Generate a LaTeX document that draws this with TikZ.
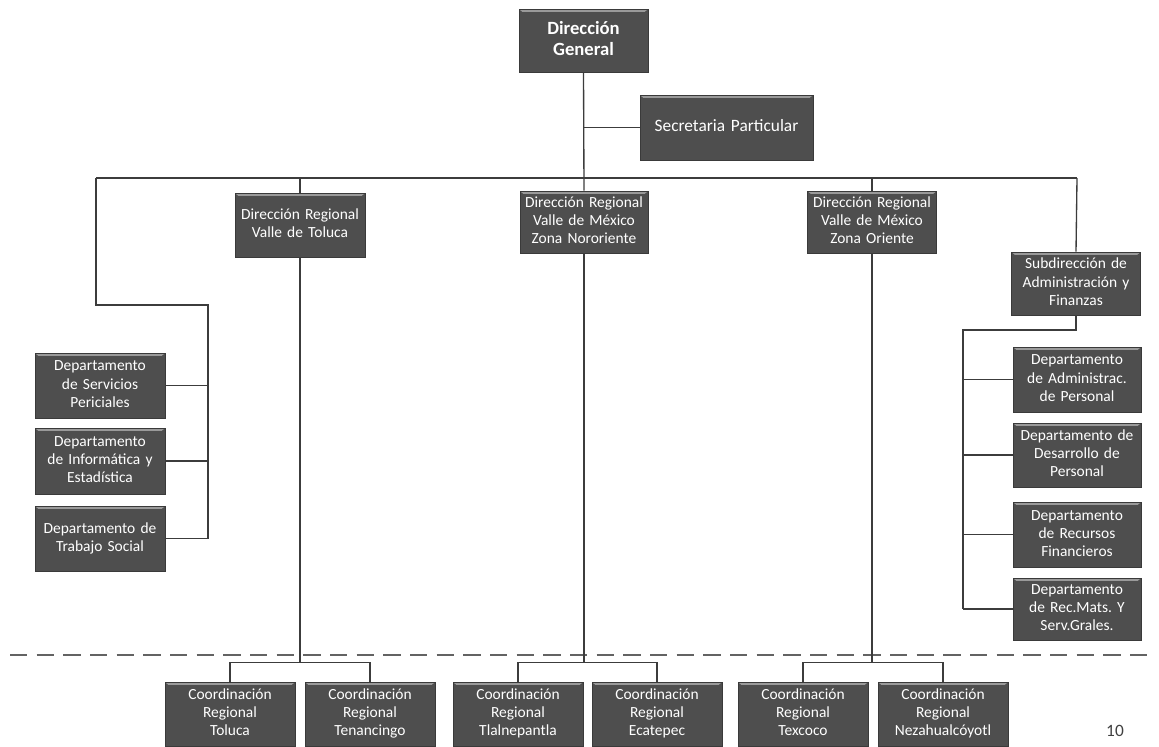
\documentclass[tikz,border=0pt]{standalone}
\usepackage{fontspec}
\setmainfont{Carlito}
\frenchspacing
\definecolor{boxgray}{HTML}{4E4E4E}
\definecolor{boxedge}{HTML}{3A3A3A}
\definecolor{boxlight}{HTML}{9A9A9A}
\definecolor{linecol}{HTML}{3C3C3C}
\begin{document}
\begin{tikzpicture}[x=0.75pt,y=-0.75pt,
  box/.style 2 args={rectangle, fill=boxgray, draw=boxedge, line width=0.5pt,
    text=white, align=center, inner sep=1pt,
    font=\fontsize{11.6}{13.6}\selectfont,
    execute at begin node=\strut, execute at end node=\strut,
    minimum width={#1*0.75pt}, minimum height={#2*0.75pt},
    text width={(#1-4)*0.75pt},
    path picture={\fill[boxlight] (path picture bounding box.north west) -- (path picture bounding box.north east)
      -- ([xshift=-2.5pt,yshift=-2.2pt]path picture bounding box.north east)
      -- ([xshift=2.5pt,yshift=-2.2pt]path picture bounding box.north west) -- cycle;}},
  conn/.style={draw=linecol, line width=1pt},
  sep/.style={draw=linecol!80, line width=0.9pt, dash pattern=on 13pt off 7pt}]
\useasboundingbox (0,0) rectangle (1159,746);
\fill[white] (0,0) rectangle (1159,746);

% top
\node[box={129}{63}, font=\bfseries\fontsize{14}{16}\selectfont] (dg) at (583.5,40.5) {Dirección\\General};
\node[box={173}{65}, font=\fontsize{13}{15}\selectfont] (sec) at (726.5,127.5) {Secretaria Particular};

% regional directions
\node[box={130}{64}] (drt) at (300,225) {Dirección Regional\\Valle de Toluca};
\node[box={128}{62}] (drn) at (584,222) {Dirección Regional\\Valle de México\\Zona Nororiente};
\node[box={129}{62}] (dro) at (872,222) {Dirección Regional\\Valle de México\\Zona Oriente};
\node[box={129}{63}] (sub) at (1076,283.5) {Subdirección de\\Administración y\\Finanzas};

% left departments
\node[box={130}{65}] (l1) at (100,385.5) {Departamento\\de Servicios\\Periciales};
\node[box={130}{66}] (l2) at (100,461) {Departamento\\de Informática y\\Estadística};
\node[box={130}{65}] (l3) at (100,538.5) {Departamento de\\Trabajo Social};

% right departments
\node[box={128}{65}] (r1) at (1077,379.5) {Departamento\\de Administrac.\\de Personal};
\node[box={128}{64}] (r2) at (1077,455) {Departamento de\\Desarrollo de\\Personal};
\node[box={128}{65}] (r3) at (1077,534.5) {Departamento\\de Recursos\\Financieros};
\node[box={128}{62}] (r4) at (1077,609) {Departamento\\de Rec.Mats. Y\\Serv.Grales.};

% coordinations
\node[box={130}{64}] (c1) at (230,714) {Coordinación\\Regional\\Toluca};
\node[box={130}{64}] (c2) at (370,714) {Coordinación\\Regional\\Tenancingo};
\node[box={130}{64}] (c3) at (518,714) {Coordinación\\Regional\\Tlalnepantla};
\node[box={130}{64}] (c4) at (657,714) {Coordinación\\Regional\\Ecatepec};
\node[box={130}{64}] (c5) at (803,714) {Coordinación\\Regional\\Texcoco};
\node[box={130}{64}] (c6) at (943,714) {Coordinación\\Regional\\Nezahualcóyotl};

% coordinates
\coordinate (busL) at (96,178);
\coordinate (busR) at (1077,178);
\coordinate (lj1) at (96,305);
\coordinate (lj2) at (208,305);
\coordinate (rj) at (963,330);
\coordinate (sepL) at (10,655);
\coordinate (sepR) at (1152,655);

% dashed separator
\draw[sep] (sepL) -- (sepR);

% connectors
\draw[conn] (dg.south) -- (drn.north);
\draw[conn] (sec.west) -- (sec.west -| dg.south);
\draw[conn] (busL) -- (busR);
\draw[conn] (drt.north |- busL) -- (drt.north);
\draw[conn] (dro.north |- busL) -- (dro.north);
\draw[conn] (busR) -- (sub.north);
\draw[conn] (busL) -- (lj1) -- (lj2) -- (lj2 |- l3.east);
\draw[conn] (l1.east) -- (l1.east -| lj2);
\draw[conn] (l2.east) -- (l2.east -| lj2);
\draw[conn] (l3.east) -- (l3.east -| lj2);
\draw[conn] (sub.south) |- (rj) -- (rj |- r4.west);
\draw[conn] (r1.west) -- (r1.west -| rj);
\draw[conn] (r2.west) -- (r2.west -| rj);
\draw[conn] (r3.west) -- (r3.west -| rj);
\draw[conn] (r4.west) -- (r4.west -| rj);

\draw[conn] (drt.south) -- (drt.south |- 0,663);
\draw[conn] (c1.north) -- ++(0,-19) -| (c2.north);
\draw[conn] (drn.south) -- (drn.south |- 0,663);
\draw[conn] (c3.north) -- ++(0,-19) -| (c4.north);
\draw[conn] (dro.south) -- (dro.south |- 0,663);
\draw[conn] (c5.north) -- ++(0,-19) -| (c6.north);

% page number
\node[text=black!75, font=\fontsize{13}{15}\selectfont] (pg) at (1115,731) {10};
\end{tikzpicture}
\end{document}
